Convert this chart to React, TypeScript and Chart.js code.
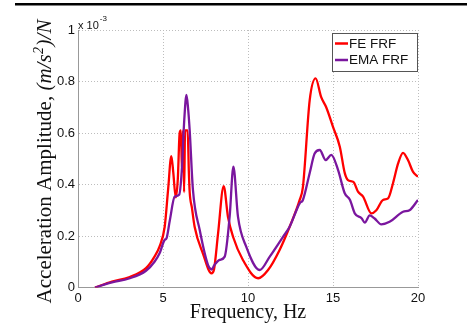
import React, { useEffect, useRef } from "react";
import { Chart, registerables } from "chart.js";

Chart.register(...registerables);

// ---- data (amplitudes in units of 1e-3 (m/s^2)/N) ----
const feFreq = [1, 2, 3, 4, 4.5, 4.8, 5.1, 5.3, 5.49, 5.6, 5.75, 5.87, 5.98, 6.05, 6.12, 6.18, 6.24, 6.3, 6.45, 6.52, 6.57, 6.7, 6.86, 7.36, 7.85, 8.0, 8.24, 8.57, 8.82, 9.12, 9.7, 10.6, 11.18, 11.86, 12.45, 13.04, 13.23, 13.63, 13.98, 14.3, 14.6, 15.0, 15.4, 15.69, 15.88, 16.2, 16.47, 16.77, 17.26, 17.55, 17.94, 18.24, 18.53, 18.83, 19.12, 19.41, 19.7, 20];
const feAmp = [0, 0.023, 0.04, 0.075, 0.12, 0.16, 0.236, 0.38, 0.51, 0.45, 0.35, 0.42, 0.6, 0.61, 0.45, 0.61, 0.37, 0.61, 0.61, 0.45, 0.37, 0.31, 0.236, 0.13, 0.055, 0.07, 0.21, 0.394, 0.275, 0.197, 0.107, 0.036, 0.068, 0.146, 0.236, 0.34, 0.39, 0.728, 0.812, 0.74, 0.7, 0.624, 0.547, 0.445, 0.417, 0.41, 0.372, 0.353, 0.288, 0.3, 0.34, 0.346, 0.405, 0.482, 0.523, 0.495, 0.45, 0.43];

const emaFreq = [1, 2, 3, 4, 4.5, 4.8, 5.1, 5.2, 5.4, 5.69, 5.95, 6.1, 6.25, 6.38, 6.47, 6.57, 6.76, 7.16, 7.65, 7.87, 8.0, 8.33, 8.63, 8.92, 9.14, 9.41, 9.9, 10.69, 11.28, 12.06, 12.45, 13.04, 13.23, 13.63, 13.92, 14.22, 14.57, 14.9, 15.3, 15.69, 16.0, 16.28, 16.68, 16.87, 17.16, 17.45, 17.84, 18.33, 19.12, 19.5, 20];
const emaAmp = [0, 0.02, 0.035, 0.065, 0.1, 0.133, 0.185, 0.19, 0.26, 0.353, 0.36, 0.45, 0.65, 0.748, 0.7, 0.61, 0.38, 0.223, 0.087, 0.07, 0.085, 0.107, 0.12, 0.275, 0.469, 0.275, 0.158, 0.068, 0.12, 0.197, 0.236, 0.327, 0.34, 0.445, 0.52, 0.534, 0.495, 0.515, 0.456, 0.366, 0.34, 0.288, 0.269, 0.252, 0.28, 0.268, 0.245, 0.255, 0.294, 0.3, 0.34];

const seriesLabels = ["FE FRF", "EMA FRF"];
const seriesColors = ["#ff0000", "#7a169e"];
const xTicks = [0, 5, 10, 15, 20];
const yTicks = [0, 0.2, 0.4, 0.6, 0.8, 1];
const xTitle = "Frequency, Hz";
const yTitlePlain = "Acceleration Amplitude, ";
const yTitleMathA = "(m/s";
const yTitleMathSup = "2";
const yTitleMathB = ")/N";
const expBase = "x 10";
const expPower = "-3";

const SANS = "'Liberation Sans', Arial, sans-serif";
const SERIF = "'Liberation Serif', 'Times New Roman', serif";

const decorPlugin = {
  id: "decor",
  afterDraw(chart: any) {
    const ctx = chart.ctx as CanvasRenderingContext2D;
    const area = chart.chartArea;
    ctx.save();
    // top rule
    ctx.fillStyle = "#000";
    ctx.fillRect(15, 3, 452, 2.5);

    // exponent label
    ctx.fillStyle = "#111";
    ctx.textBaseline = "alphabetic";
    ctx.textAlign = "left";
    ctx.font = `11px ${SANS}`;
    ctx.fillText(expBase, area.left, 28.5);
    const w = ctx.measureText(expBase).width;
    ctx.font = `8px ${SANS}`;
    ctx.fillText(expPower, area.left + w + 1, 21);

    // x title
    ctx.font = `20px ${SERIF}`;
    ctx.textAlign = "center";
    ctx.fillStyle = "#111";
    ctx.fillText(xTitle, (area.left + area.right) / 2, 318);

    // y title (rotated, mixed fonts)
    const fs = 21;
    const fPlain = `${fs}px ${SERIF}`;
    const fIt = `italic ${fs}px ${SERIF}`;
    const fSup = `italic 14px ${SERIF}`;
    ctx.font = fPlain;
    const w1 = ctx.measureText(yTitlePlain).width;
    ctx.font = fIt;
    const w2 = ctx.measureText(yTitleMathA).width;
    ctx.font = fSup;
    const w3 = ctx.measureText(yTitleMathSup).width + 1;
    ctx.font = fIt;
    const w4 = ctx.measureText(yTitleMathB).width;
    const total = w1 + w2 + w3 + w4;
    const cy = 161.5;
    ctx.translate(51, cy);
    ctx.rotate(-Math.PI / 2);
    ctx.textAlign = "left";
    let x = -total / 2;
    ctx.font = fPlain;
    ctx.fillText(yTitlePlain, x, 0);
    x += w1;
    ctx.font = fIt;
    ctx.fillText(yTitleMathA, x, 0);
    x += w2;
    ctx.font = fSup;
    ctx.fillText(yTitleMathSup, x + 0.5, -8);
    x += w3;
    ctx.font = fIt;
    ctx.fillText(yTitleMathB, x, 0);
    ctx.restore();

    // legend box
    ctx.save();
    const bx = 332, by = 33, bw = 85, bh = 38;
    ctx.fillStyle = "#fff";
    ctx.fillRect(bx, by, bw, bh);
    ctx.strokeStyle = "#555";
    ctx.lineWidth = 1;
    ctx.strokeRect(bx + 0.5, by + 0.5, bw, bh);
    ctx.font = `13.5px ${SANS}`;
    ctx.textBaseline = "middle";
    ctx.textAlign = "left";
    chart.data.datasets.forEach((ds: any, i: number) => {
      const yy = by + 10.5 + i * 16.5;
      ctx.strokeStyle = ds.borderColor;
      ctx.lineWidth = 2.5;
      ctx.beginPath();
      ctx.moveTo(bx + 3, yy);
      ctx.lineTo(bx + 16, yy);
      ctx.stroke();
      ctx.fillStyle = "#111";
      ctx.fillText(ds.label, bx + 17, yy + 0.5);
    });
    ctx.restore();
  },
};

export default function App() {
  const ref = useRef<HTMLCanvasElement | null>(null);
  useEffect(() => {
    if (!ref.current) return;
    const chart = new Chart(ref.current, {
      type: "line",
      data: {
        datasets: [
          {
            label: seriesLabels[0],
            data: feFreq.map((f, i) => ({ x: f, y: feAmp[i] })),
            borderColor: seriesColors[0],
            borderWidth: 2.3,
            pointRadius: 0,
            cubicInterpolationMode: "monotone",
            order: 1,
          },
          {
            label: seriesLabels[1],
            data: emaFreq.map((f, i) => ({ x: f, y: emaAmp[i] })),
            borderColor: seriesColors[1],
            borderWidth: 2.3,
            pointRadius: 0,
            cubicInterpolationMode: "monotone",
            order: 0,
          },
        ],
      },
      options: {
        animation: false,
        responsive: false,
        layout: { padding: { left: 0, top: 30, right: 49, bottom: 24.5 } },
        plugins: { legend: { display: false }, tooltip: { enabled: false } },
        scales: {
          x: {
            type: "linear",
            min: 0,
            max: 20,
            afterBuildTicks: (s: any) => {
              s.ticks = xTicks.map((v) => ({ value: v }));
            },
            afterFit: (s: any) => {
              s.height = 20;
            },
            ticks: {
              font: { family: SANS, size: 13 },
              color: "#111",
              padding: 3,
              maxRotation: 0,
              callback: (v: any) => String(v),
            },
            grid: { color: "#bdbdbd", lineWidth: 1, drawTicks: false },
            border: { display: true, color: "#999", width: 1, dash: [1, 2] },
          },
          y: {
            type: "linear",
            min: 0,
            max: 1,
            afterBuildTicks: (s: any) => {
              s.ticks = yTicks.map((v) => ({ value: v }));
            },
            afterFit: (s: any) => {
              s.width = 78;
            },
            ticks: {
              font: { family: SANS, size: 13 },
              color: "#111",
              padding: 3,
              callback: (v: any) => String(Math.round(Number(v) * 10) / 10),
            },
            grid: { color: "#bdbdbd", lineWidth: 1, drawTicks: false },
            border: { display: true, color: "#999", width: 1, dash: [1, 2] },
          },
        },
      },
      plugins: [decorPlugin],
    } as any);
    return () => chart.destroy();
  }, []);
  return (
    <canvas
      ref={ref}
      width={467}
      height={332}
      style={{ position: "fixed", left: 0, top: 0, display: "block", background: "#fff" }}
    />
  );
}
